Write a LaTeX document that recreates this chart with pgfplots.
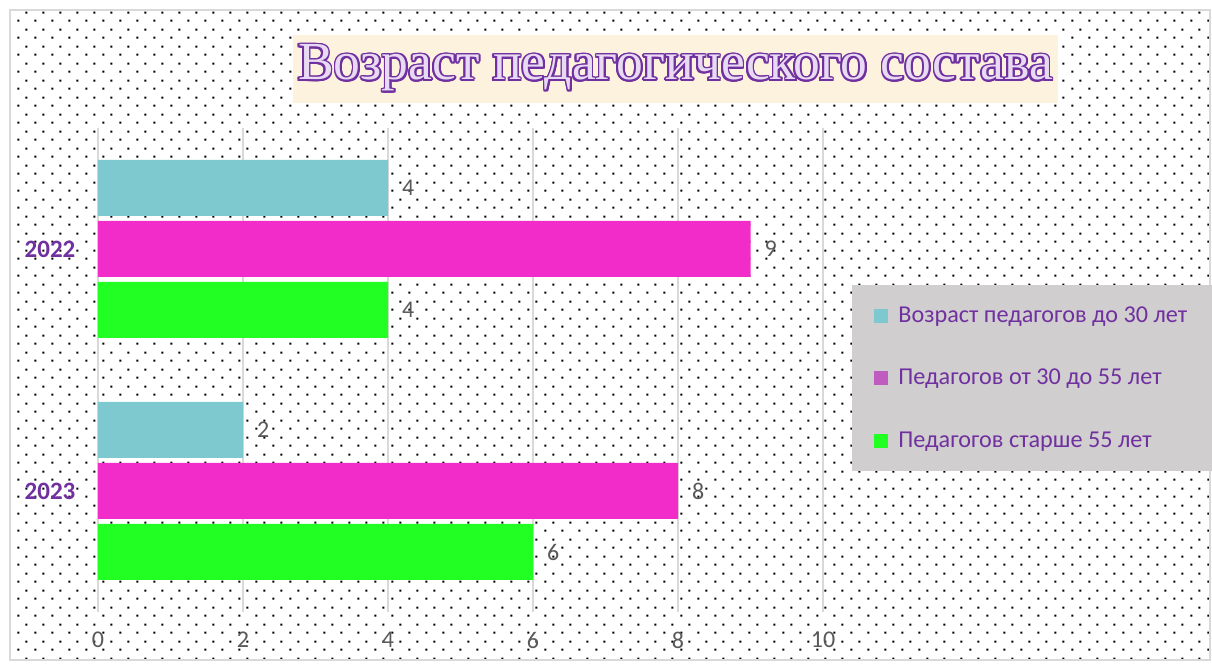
\documentclass[border=0pt]{standalone}
\usepackage{pgfplots}
\pgfplotsset{compat=1.18}
\usetikzlibrary{patterns}
\usepackage{fontspec}
\setmainfont{Carlito}
\newfontfamily\titlefont{Liberation Serif}
\usepackage{contour}
\contourlength{0.9pt}
\definecolor{cyanbar}{RGB}{126,201,207}
\definecolor{magbar}{RGB}{242,44,200}
\definecolor{legmag}{RGB}{192,91,192}
\definecolor{greenbar}{RGB}{34,255,34}
\definecolor{legendgray}{RGB}{208,206,206}
\definecolor{titlepurple}{RGB}{112,48,160}
\definecolor{titlelight}{RGB}{232,218,242}
\definecolor{titlecream}{RGB}{253,242,222}
\definecolor{gridgray}{RGB}{217,217,217}
\definecolor{labelgray}{RGB}{89,89,89}
\pgfdeclarepatternformonly{mydots}{\pgfqpoint{0pt}{0pt}}{\pgfqpoint{8.5pt}{8.5pt}}{\pgfqpoint{8.5pt}{8.5pt}}{%
\pgfpathrectangle{\pgfqpoint{0.2pt}{0.2pt}}{\pgfqpoint{1pt}{1pt}}%
\pgfpathrectangle{\pgfqpoint{4.45pt}{4.45pt}}{\pgfqpoint{1pt}{1pt}}%
\pgfusepath{fill}}
\begin{document}
\begin{tikzpicture}[x=1pt,y=1pt]
\path[use as bounding box, fill=white] (0,0) rectangle (606,334);
\fill[pattern=mydots, pattern color=black] (5,4) rectangle (605,329);
\draw[gridgray, line width=0.8pt] (5,4) rectangle (605,329);
\node[fill=titlecream, minimum width=382.5pt, minimum height=34pt, inner sep=0pt] at (337.75,299.5)
 {\titlefont\fontsize{26.8}{27}\selectfont\contour{titlepurple}{\textcolor{titlelight}{Возраст педагогического состава}}};
\begin{axis}[
 at={(49pt,28pt)}, anchor=south west, scale only axis,
 width=362.5pt, height=242pt,
 xbar, bar width=28pt,
 xmin=0, xmax=10, ymin=-0.5, ymax=1.5, y dir=reverse,
 ytick={0,1}, yticklabels={2022,2023},
 xtick={0,2,4,6,8,10},
 /pgf/number format/assume math mode=true,
 xmajorgrids, major grid style={gridgray, line width=0.7pt},
 axis line style={draw=none}, major tick length=0pt,
 xticklabel style={anchor=center, yshift=-14pt, font=\fontsize{12}{14}\selectfont, text=labelgray},
 yticklabel style={anchor=center, xshift=-24pt, font=\bfseries\fontsize{12.5}{14}\selectfont, text=titlepurple},
 nodes near coords,
 every node near coord/.append style={anchor=west, xshift=3.5pt, font=\fontsize{12}{14}\selectfont, text=labelgray},
 legend style={at={(1.04,0.6756)}, anchor=north west, fill=legendgray, draw=none,
   font=\fontsize{12.1}{14}\selectfont, text=titlepurple, inner xsep=11pt, inner ysep=8.5pt,
   row sep=18pt, /tikz/every odd column/.append style={column sep=3pt}},
 legend cell align=left,
 legend image code/.code={\fill[#1, draw=none] (0pt,-3.5pt) rectangle (7pt,3.5pt);},
]
\addplot[fill=cyanbar, draw=none, bar shift=30.5pt] coordinates {(4,0) (2,1)};
\addplot[fill=magbar, draw=none, bar shift=0pt,
  legend image code/.code={\fill[legmag] (0pt,-3.5pt) rectangle (7pt,3.5pt);}] coordinates {(9,0) (8,1)};
\addplot[fill=greenbar, draw=none, bar shift=-30.5pt] coordinates {(4,0) (6,1)};
\legend{Возраст педагогов до 30 лет, Педагогов от 30 до 55 лет, Педагогов старше 55 лет}
\end{axis}
\end{tikzpicture}
\end{document}
